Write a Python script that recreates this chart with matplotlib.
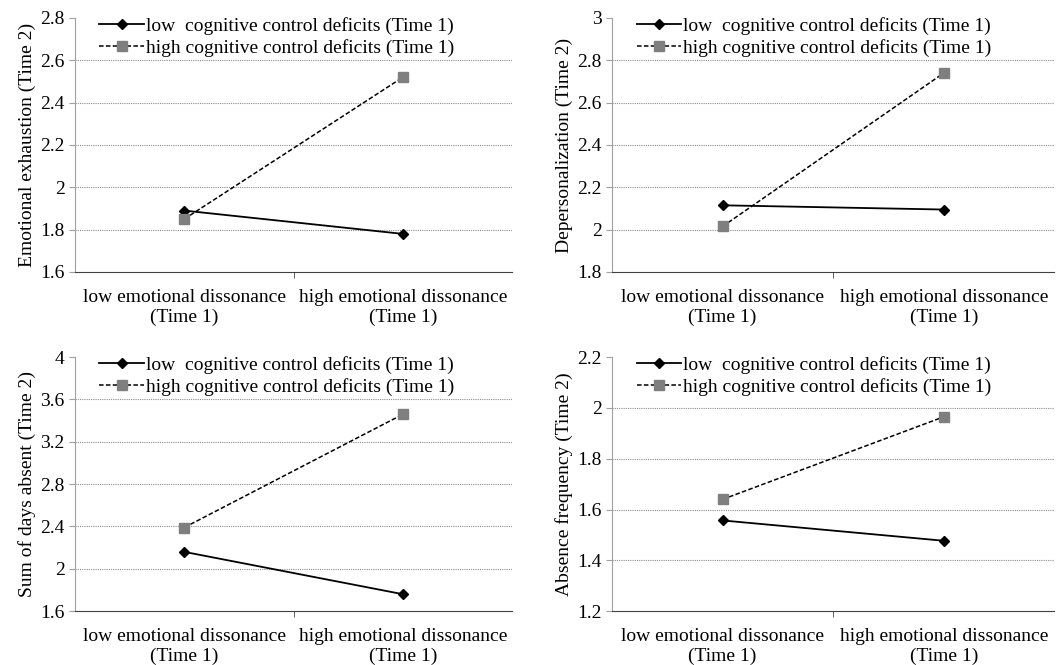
import matplotlib
matplotlib.use('Agg')
import matplotlib.pyplot as plt

plt.rcParams['font.family'] = ['Liberation Serif', 'DejaVu Serif']

# x categories
categories = ['low emotional dissonance\n(Time 1)', 'high emotional dissonance\n(Time 1)']
legend_low = 'low  cognitive control deficits (Time 1)'
legend_high = 'high cognitive control deficits (Time 1)'

# one entry per panel: y label, low-deficit series, high-deficit series, y ticks
ylabels = ['Emotional exhaustion (Time 2)', 'Depersonalization (Time 2)',
           'Sum of days absent (Time 2)', 'Absence frequency (Time 2)']
low_deficits = [[1.89, 1.78], [2.115, 2.095], [2.16, 1.76], [1.557, 1.477]]
high_deficits = [[1.85, 2.52], [2.015, 2.74], [2.39, 3.46], [1.64, 1.965]]
yticks = [[1.6, 1.8, 2.0, 2.2, 2.4, 2.6, 2.8],
          [1.8, 2.0, 2.2, 2.4, 2.6, 2.8, 3.0],
          [1.6, 2.0, 2.4, 2.8, 3.2, 3.6, 4.0],
          [1.2, 1.4, 1.6, 1.8, 2.0, 2.2]]


def fmt(v):
    s = ('%.1f' % v)
    return s[:-2] if s.endswith('.0') else s


fig = plt.figure(figsize=(10.56, 6.65), dpi=100)
positions = [[0.071, 0.591, 0.414, 0.382],
             [0.5795, 0.591, 0.419, 0.382],
             [0.071, 0.081, 0.414, 0.382],
             [0.5795, 0.081, 0.419, 0.382]]

for i in range(4):
    ax = fig.add_axes(positions[i])
    x = [0, 1]
    ax.plot(x, low_deficits[i], color='black', lw=1.3, marker='D', ms=5,
            label=legend_low, zorder=3)
    ax.plot(x, high_deficits[i], color='black', lw=1.1, ls=(0, (3, 1.5)),
            marker='s', ms=7, mfc='#7f7f7f', mec='#7f7f7f',
            label=legend_high, zorder=3)

    yt = yticks[i]
    ax.set_ylim(yt[0], yt[-1])
    ax.set_yticks(yt)
    ax.set_yticklabels([fmt(v) for v in yt])
    for v in yt[1:-1]:
        ax.axhline(v, color='#8c8c8c', lw=0.8, ls=(0, (1, 1)), zorder=1)

    ax.set_xlim(-0.5, 1.5)
    ax.set_xticks(x)
    ax.set_xticklabels(categories)
    ax.set_xticks([0.5], minor=True)
    ax.tick_params(axis='x', which='major', length=0, labelsize=14, pad=12)
    ax.tick_params(axis='x', which='minor', length=4, direction='out',
                   color='#404040')
    ax.tick_params(axis='y', length=4, labelsize=14, color='#a0a0a0')

    ax.spines['top'].set_visible(False)
    ax.spines['right'].set_visible(False)
    ax.spines['left'].set_color('#a0a0a0')
    ax.spines['bottom'].set_color('#404040')

    ax.set_ylabel(ylabels[i], fontsize=14, labelpad=3)

    leg = ax.legend(loc='upper left', bbox_to_anchor=(0.038, 1.035),
                    frameon=False, fontsize=14, handlelength=2.3,
                    handletextpad=0.1, labelspacing=0.22, borderaxespad=0)

fig.savefig('out.png', dpi=100)
